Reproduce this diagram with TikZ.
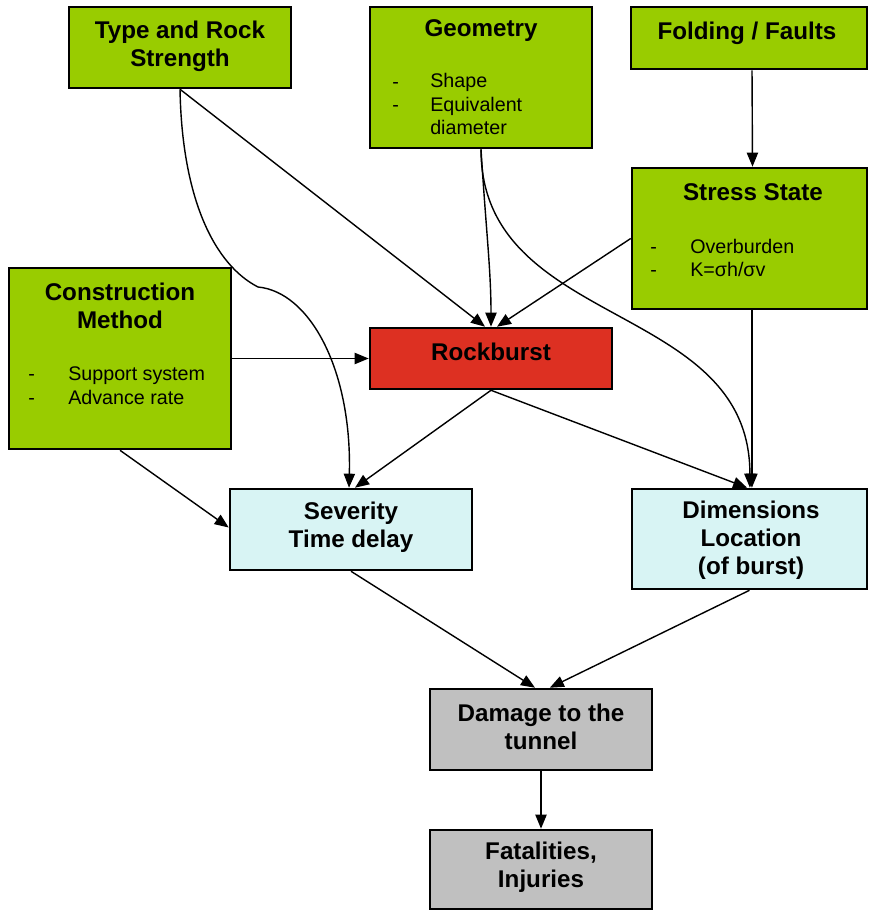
\documentclass[tikz,border=0pt]{standalone}
\usepackage{fontspec}
\setmainfont{Liberation Sans}
\usetikzlibrary{arrows.meta}

\definecolor{causegreen}{RGB}{153,204,0}
\definecolor{burstred}{RGB}{221,48,34}
\definecolor{effectcyan}{RGB}{216,244,244}
\definecolor{lossgray}{RGB}{192,192,192}

\newcommand{\headfont}{\bfseries\fontsize{17.2}{20}\selectfont}
\newcommand{\itemfont}{\fontsize{14}{16.8}\selectfont}

\tikzset{
  box/.style={draw=black, line width=1.8pt, inner sep=0pt},
  cause/.style={box, fill=causegreen},
  event/.style={box, fill=burstred},
  effect/.style={box, fill=effectcyan},
  loss/.style={box, fill=lossgray},
  head/.style={font=\headfont, align=center, inner sep=0pt},
  % base of a list node = baseline of its last line
  item/.style={font=\itemfont, align=left, inner sep=0pt, anchor=base west},
  link/.style={line width=1pt, -{Triangle[length=10pt,width=8pt]}},
}

\begin{document}
\begin{tikzpicture}[x=0.025cm, y=-0.025cm]
  \useasboundingbox (0,0) rectangle (869,911);

  % causes
  \node[cause, minimum width=5.55cm, minimum height=2.025cm] (type) at (180,47.5) {};
  \node[head] (typehead) at (180,46) {Type and Rock\\Strength};

  \node[cause, minimum width=5.55cm, minimum height=3.525cm] (geom) at (481,77.5) {};
  \node[head] (geomhead) at (481,31) {Geometry};
  \node[item] (geomdash) at (392,112) {-\\-};
  \node[item] (geomlist) at (430,135) {Shape\\Equivalent\\diameter};

  \node[cause, minimum width=5.9cm, minimum height=1.55cm] (fold) at (749,38) {};
  \node[head] (foldhead) at (747,33) {Folding / Faults};

  \node[cause, minimum width=5.875cm, minimum height=3.525cm] (stress) at (749.5,238.5) {};
  \node[head] (stresshead) at (753,192) {Stress State};
  \node[item] (stressdash) at (650,277) {-\\-};
  \node[item] (stresslist) at (690,277) {Overburden\\K=σh/σv};

  \node[cause, minimum width=5.55cm, minimum height=4.525cm] (constr) at (120,358.5) {};
  \node[head] (constrhead) at (120,306) {Construction\\Method};
  \node[item] (constrdash) at (28,404) {-\\-};
  \node[item] (constrlist) at (68,404) {Support system\\Advance rate};

  % the burst itself
  \node[event, minimum width=6.05cm, minimum height=1.525cm] (rock) at (491,358.5) {};
  \node[head] (rockhead) at (491,352) {Rockburst};

  % effects
  \node[effect, minimum width=6.05cm, minimum height=2.025cm] (sev) at (351,529.5) {};
  \node[head] (sevhead) at (351,527) {Severity\\Time delay};

  \node[effect, minimum width=5.875cm, minimum height=2.5cm] (dim) at (749.5,539) {};
  \node[head] (dimhead) at (751,540) {Dimensions\\Location\\(of burst)};

  \node[loss, minimum width=5.55cm, minimum height=2.025cm] (dmg) at (541,729.5) {};
  \node[head] (dmghead) at (541,727) {Damage to the\\tunnel};

  \node[loss, minimum width=5.55cm, minimum height=1.975cm] (fat) at (541,869.5) {};
  \node[head] (fathead) at (541,867) {Fatalities,\\Injuries};

  \coordinate (bend) at (258,287);

  % links
  \draw[link] ([xshift=0.075cm]fold.south) -- ([xshift=0.075cm]stress.north);
  \draw[link] ([xshift=0.06cm]stress.south) -- ([xshift=0.06cm]dim.north);
  \draw[link] (type.south) -- ([xshift=-0.15cm]rock.north);
  \draw[link] (type.south) .. controls (182,200) and (215,265) .. (bend)
    .. controls (310,292) and (352,370) .. ([xshift=-0.05cm]sev.north);
  \draw[link] (geom.south) .. controls (486,230) and (491,270) .. (rock.north);
  \draw[link] (geom.south) .. controls (481,330) and (750,300) .. ([xshift=0.01cm]dim.north);
  \draw[link] (stress.west) -- ([xshift=0.15cm]rock.north);
  \draw[link] (constr.east) -- (rock.west);
  \draw[link] (constr.south) -- ([yshift=0.05cm]sev.west);
  \draw[link] (rock.south) -- ([xshift=0.1cm]sev.north);
  \draw[link] (rock.south) -- ([xshift=-0.06cm]dim.north);
  \draw[link] (sev.south) -- ([xshift=-0.15cm]dmg.north);
  \draw[link] (dim.south) -- ([xshift=0.22cm]dmg.north);
  \draw[link] (dmg) -- (fat);
\end{tikzpicture}
\end{document}
